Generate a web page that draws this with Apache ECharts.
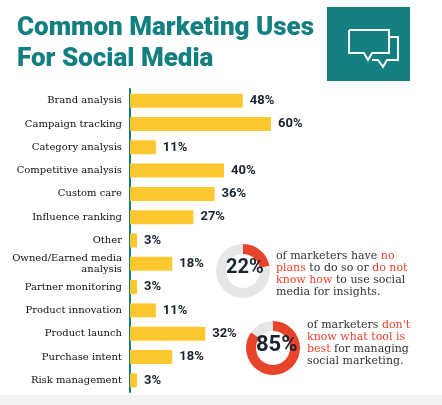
<!DOCTYPE html><html><head><meta charset="utf-8"><script src="https://cdn.jsdelivr.net/npm/echarts@6/dist/echarts.min.js"></script></head><body style="margin:0;background:#fff"><div id="c" style="width:442px;height:405px"></div><script>
const categories=["Brand analysis","Campaign tracking","Category analysis","Competitive analysis","Custom care","Influence ranking","Other","Owned/Earned media\nanalysis","Partner monitoring","Product innovation","Product launch","Purchase intent","Risk management"];
const values=[48,60,11,40,36,27,3,18,3,11,32,18,3];
const donutValues=[22,85];
const teal='#137f80',red='#e8442c',gray='#e6e6e6';
const ch=echarts.init(document.getElementById('c'));
const rich={n:{fontFamily:'DejaVu Serif',fontSize:11,fill:'#333',color:'#333',lineHeight:12},r:{fontFamily:'DejaVu Serif',fontSize:11,fill:red,color:red,lineHeight:12}};
function donut(c,v){return {type:'pie',center:c,radius:[17,27],startAngle:90,silent:true,label:{show:false},
 data:[{value:v,itemStyle:{color:red}},{value:100-v,itemStyle:{color:gray}}]};}
ch.setOption({animation:false,
 title:{text:'Common Marketing Uses\nFor Social Media',left:12,top:8,textStyle:{fontFamily:'Roboto',fontWeight:900,fontSize:26,lineHeight:31,color:teal}},
 grid:{left:130,top:89,width:235,height:303},
 xAxis:{type:'value',min:0,max:100,show:false},
 yAxis:{type:'category',data:categories,inverse:true,axisTick:{show:false},axisLine:{lineStyle:{color:teal,width:2}},
  axisLabel:{margin:8,fontFamily:'DejaVu Serif',fontSize:10,color:'#111',lineHeight:11}},
 series:[{type:'bar',data:values,barWidth:14,itemStyle:{color:'#fdc82f'},
  label:{show:true,position:'right',distance:7,formatter:'{c}%',fontFamily:'Roboto',fontWeight:'bold',fontSize:13,color:'#1a2330'}},
  donut([243,271],donutValues[0]),donut([273,348],donutValues[1])],
 graphic:[
  {type:'rect',shape:{x:0,y:395,width:442,height:10},style:{fill:'#f1f1f1'}},
  {type:'rect',shape:{x:327,y:7,width:83,height:74},style:{fill:teal}},
  {type:'polyline',shape:{points:[[349,30],[389,30],[389,53],[372,53],[368,60],[364,53],[349,53],[349,30]]},style:{stroke:'#fff',lineWidth:2,fill:'none'}},
  {type:'polyline',shape:{points:[[389,37],[398,37],[398,60],[387,60],[383,67],[378,60],[372,60]]},style:{stroke:'#fff',lineWidth:2,fill:'none'}},
  {type:'text',left:226,top:258,z:10,style:{text:donutValues[0]+'%',font:'bold 20px Roboto',fill:'#1a2330'}},
  {type:'text',left:256,top:334,z:10,style:{text:donutValues[1]+'%',font:'bold 22px Roboto',fill:'#1a2330'}},
  {type:'text',left:276,top:251,style:{text:'{n|of marketers have }{r|no}\n{r|plans}{n| to do so or }{r|do not}\n{r|know how}{n| to use social}\n{n|media for insights.}',rich:rich}},
  {type:'text',left:307,top:320,style:{text:'{n|of marketers }{r|don\'t}\n{r|know what tool is}\n{r|best}{n| for managing}\n{n|social marketing.}',rich:rich}}
 ]});
</script></body></html>
